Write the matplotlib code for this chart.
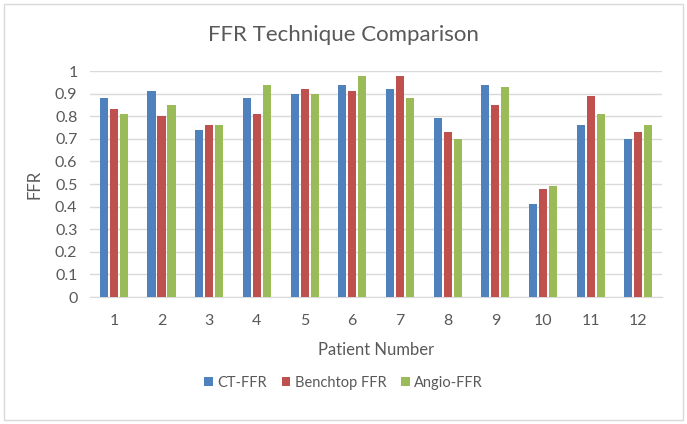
import numpy as np
import matplotlib.pyplot as plt
from matplotlib.patches import Rectangle

plt.rcParams['font.family'] = ['Lato', 'DejaVu Sans']

patients = [str(i) for i in range(1, 13)]
ct_ffr = [0.88, 0.91, 0.74, 0.88, 0.90, 0.94, 0.92, 0.79, 0.94, 0.41, 0.76, 0.70]
bench_ffr = [0.83, 0.80, 0.76, 0.81, 0.92, 0.91, 0.98, 0.73, 0.85, 0.48, 0.89, 0.73]
angio_ffr = [0.81, 0.85, 0.76, 0.94, 0.90, 0.98, 0.88, 0.70, 0.93, 0.49, 0.81, 0.76]
yticks = [0, 0.1, 0.2, 0.3, 0.4, 0.5, 0.6, 0.7, 0.8, 0.9, 1]
ytick_labels = ['0', '0.1', '0.2', '0.3', '0.4', '0.5', '0.6', '0.7', '0.8', '0.9', '1']

txt = '#595959'
fig = plt.figure(figsize=(6.87, 4.24), dpi=100)
fig.patches.append(Rectangle((0.006, 0.01), 0.988, 0.98, transform=fig.transFigure,
                             fill=False, edgecolor='#d9d9d9', linewidth=1))
ax = fig.add_axes([0.131, 0.2995, 0.833, 0.533])

x = np.arange(len(patients))
w = 0.17
off = 0.21
ax.bar(x - off, ct_ffr, w, color='#4F81BD', label='CT-FFR', zorder=3)
ax.bar(x, bench_ffr, w, color='#C0504D', label='Benchtop FFR', zorder=3)
ax.bar(x + off, angio_ffr, w, color='#9BBB59', label='Angio-FFR', zorder=3)

ax.set_xlim(-0.5, len(patients) - 0.5)
ax.set_ylim(0, 1)
ax.set_yticks(yticks)
ax.set_yticklabels(ytick_labels)
ax.set_xticks(x)
ax.set_xticklabels(patients)
ax.grid(axis='y', color='#d9d9d9', linewidth=1, zorder=0)
for s in ['top', 'right', 'left']:
    ax.spines[s].set_visible(False)
ax.spines['bottom'].set_color('#d9d9d9')
ax.tick_params(length=0, colors=txt, labelsize=11.5)
ax.tick_params(axis='x', pad=12)
ax.tick_params(axis='y', pad=9)

fig.text(0.5, 0.917, 'FFR Technique Comparison', fontsize=16, color=txt,
         ha='center', va='center')
ax.set_xlabel('Patient Number', fontsize=12, color=txt, labelpad=10)
ax.set_ylabel('FFR', fontsize=12, color=txt, labelpad=9)

leg = fig.legend(loc='center', bbox_to_anchor=(0.5, 0.097), ncol=3, frameon=False,
                 fontsize=10.5, handlelength=0.6, handleheight=0.6, columnspacing=1.0,
                 handletextpad=0.3)
for t in leg.get_texts():
    t.set_color(txt)

plt.savefig('out.png', dpi=100)
